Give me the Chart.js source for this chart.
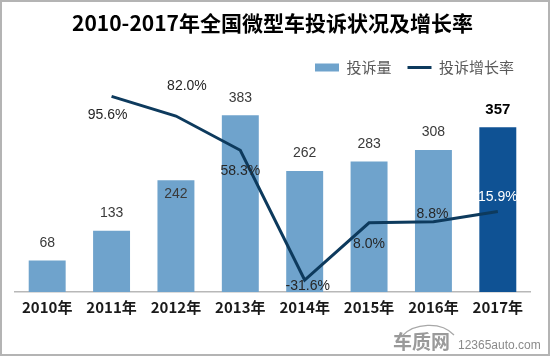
<!DOCTYPE html>
<html>
<head>
<meta charset="utf-8">
<script src="https://cdn.jsdelivr.net/npm/chart.js@4.4.1/dist/chart.umd.min.js"></script>
<style>
  html, body { margin: 0; padding: 0; background: #ffffff; }
  canvas { display: block; }
</style>
</head>
<body>
<canvas id="c" width="550" height="356"></canvas>
<script>
// ---- data ----
const categories = ['2010年', '2011年', '2012年', '2013年', '2014年', '2015年', '2016年', '2017年'];
const complaints = [68, 133, 242, 383, 262, 283, 308, 357];
const growthRate = [null, 95.6, 82.0, 58.3, -31.6, 8.0, 8.8, 15.9];
const seriesNames = ['投诉量', '投诉增长率'];
const titleText = '2010-2017年全国微型车投诉状况及增长率';

// label placement (relative to the mark)
const barLabelPlacement = ['above', 'above', 'inside', 'above', 'above', 'above', 'above', 'above'];
const rateLabelOffsets = [null, [-4, 19], [11, -30], [0, 21], [3, 6], [0, 21], [-1, -8], [0, -14]];

const barColor = '#6fa3cc';
const barHighlight = '#0f5294';
const lineColor = '#0d3a5d';

const barColors = complaints.map((v, i) => i === complaints.length - 1 ? barHighlight : barColor);

const frameAndLabels = {
  id: 'frameAndLabels',
  beforeDraw(chart) {
    const ctx = chart.ctx;
    ctx.save();
    ctx.fillStyle = '#ffffff';
    ctx.fillRect(0, 0, chart.width, chart.height);
    ctx.restore();
  },
  afterDatasetsDraw(chart) {
    const ctx = chart.ctx;
    ctx.save();
    ctx.textAlign = 'center';
    ctx.textBaseline = 'middle';
    // bar labels
    const barMeta = chart.getDatasetMeta(0);
    barMeta.data.forEach((el, i) => {
      const last = i === complaints.length - 1;
      ctx.font = (last ? 'bold 15px ' : '14px ') + '"Liberation Sans", Arial, sans-serif';
      ctx.fillStyle = last ? '#000000' : '#3a3a3a';
      const y = barLabelPlacement[i] === 'inside' ? el.y + 14 : el.y - 17.5;
      ctx.fillText(String(complaints[i]), el.x, y);
    });
    // rate labels
    const lineMeta = chart.getDatasetMeta(1);
    lineMeta.data.forEach((el, i) => {
      if (growthRate[i] === null) return;
      const off = rateLabelOffsets[i];
      ctx.font = '14px "Liberation Sans", Arial, sans-serif';
      ctx.fillStyle = i === complaints.length - 1 ? '#ffffff' : '#262626';
      ctx.fillText(growthRate[i].toFixed(1) + '%', el.x + off[0], el.y + off[1]);
    });
    ctx.restore();
  },
  afterDraw(chart) {
    const ctx = chart.ctx;
    ctx.save();
    // watermark
    ctx.strokeStyle = '#a8a8a8';
    ctx.lineWidth = 1.2;
    ctx.beginPath();
    ctx.moveTo(402, 336);
    ctx.bezierCurveTo(414, 323, 441, 321, 454, 335);
    ctx.stroke();
    ctx.fillStyle = '#9a9a9a';
    ctx.textBaseline = 'middle';
    ctx.textAlign = 'left';
    ctx.font = 'bold 19px "Noto Sans CJK SC", sans-serif';
    ctx.fillText('车质网', 393, 342);
    ctx.fillStyle = '#8a8a8a';
    ctx.font = '12px "Liberation Sans", Arial, sans-serif';
    ctx.fillText('12365auto.com', 458, 346);
    // frame
    ctx.strokeStyle = '#b4b4b4';
    ctx.lineWidth = 2;
    ctx.strokeRect(1, 1, chart.width - 2, chart.height - 2);
    ctx.restore();
  }
};

new Chart(document.getElementById('c'), {
  data: {
    labels: categories,
    datasets: [
      {
        type: 'bar',
        label: seriesNames[0],
        data: complaints,
        backgroundColor: barColors,
        borderWidth: 0,
        categoryPercentage: 1,
        barPercentage: 0.574,
        yAxisID: 'y',
        order: 1,
        pointStyle: 'rect'
      },
      {
        type: 'line',
        label: seriesNames[1],
        data: growthRate,
        borderColor: lineColor,
        backgroundColor: lineColor,
        borderWidth: 3,
        tension: 0,
        pointRadius: 0,
        pointHoverRadius: 0,
        pointStyle: 'line',
        pointBorderWidth: 3,
        pointBorderColor: lineColor,
        yAxisID: 'y1',
        order: 0,
        clip: false
      }
    ]
  },
  options: {
    responsive: false,
    animation: false,
    devicePixelRatio: 1,
    layout: { padding: { left: 15, right: 20, top: 0, bottom: 0 } },
    plugins: {
      title: {
        display: true,
        text: titleText,
        color: '#000000',
        font: { family: '"Noto Sans CJK SC", sans-serif', size: 21, weight: 'bold' },
        padding: { top: 10, bottom: 8.8 }
      },
      legend: {
        display: true,
        position: 'top',
        align: 'end',
        labels: {
          usePointStyle: true,
          pointStyleWidth: 24,
          boxHeight: 8,
          padding: 16,
          color: '#595959',
          font: { family: '"Noto Sans CJK SC", sans-serif', size: 15 },
          sort: (a, b) => a.datasetIndex - b.datasetIndex
        }
      },
      tooltip: { enabled: false }
    },
    scales: {
      x: {
        grid: { display: false, drawTicks: false },
        border: { display: true, color: '#b8b8b8', width: 1.5 },
        ticks: {
          color: '#1a1a1a',
          padding: 6,
          font: { family: '"Noto Sans CJK SC", sans-serif', size: 15, weight: 'bold' }
        },
        afterFit(scale) { scale.height = 64; }
      },
      y: {
        display: false,
        min: 0,
        max: 448.6
      },
      y1: {
        display: false,
        min: -39.9,
        max: 103.5
      }
    }
  },
  plugins: [frameAndLabels]
});
</script>
</body>
</html>
